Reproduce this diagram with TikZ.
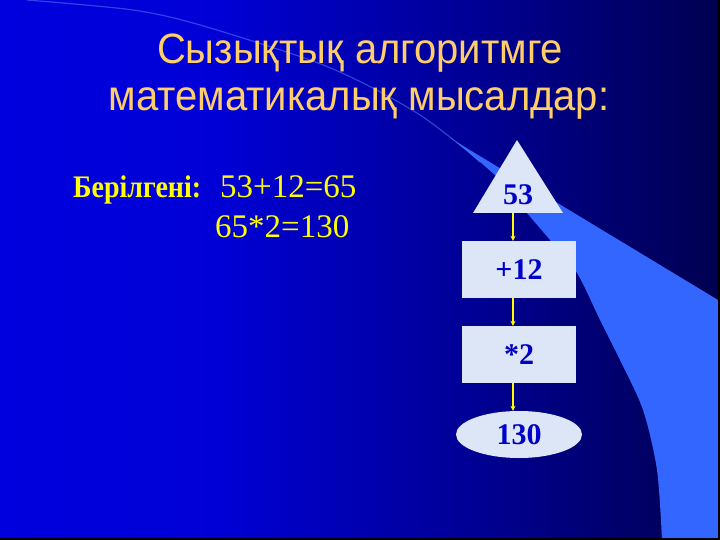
\documentclass[tikz,border=0pt]{standalone}
\usepackage{fontspec}
\setmainfont{Liberation Serif}
\newfontfamily\titlefont{Liberation Sans}
\usetikzlibrary{shapes.geometric,arrows.meta}
\definecolor{bandc}{RGB}{51,102,255}
\definecolor{titlec}{RGB}{255,206,104}
\definecolor{yel}{RGB}{255,255,0}
\definecolor{shapefill}{RGB}{220,230,246}
\definecolor{shapetext}{RGB}{0,0,200}
\definecolor{bgA}{RGB}{0,0,236}
\definecolor{bgB}{RGB}{0,0,214}
\definecolor{bgC}{RGB}{0,0,140}
\definecolor{bgD}{RGB}{0,0,80}
\definecolor{bgE}{RGB}{0,0,35}
\definecolor{bgF}{RGB}{0,0,0}
\pgfdeclarehorizontalshading{bgshade}{100bp}{color(0bp)=(bgA); color(40bp)=(bgB); color(60bp)=(bgC); color(75bp)=(bgD); color(88bp)=(bgE); color(100bp)=(bgF)}
\tikzset{
  flowbox/.style={draw=none, fill=shapefill, inner sep=0pt, text=shapetext,
    font=\fontsize{30}{32}\selectfont\bfseries, text height=20pt, text depth=0pt},
  flowarrow/.style={draw=yel, line width=1.3pt, -{Stealth[length=5pt,width=5pt]}},
  titletext/.style={text=titlec, font=\titlefont\fontsize{40}{48}\selectfont, inner sep=0pt, anchor=base},
  givtext/.style={text=yel, inner sep=0pt, anchor=base west}
}
\begin{document}
\begin{tikzpicture}[x=1pt,y=-1pt]
\useasboundingbox (0,0) rectangle (720,540);
% background
\shade[shading=bgshade] (0,0) rectangle (720,540);
% swoosh band
\fill[bandc] plot[smooth] coordinates {(450,138) (460,145) (500,180) (527,213) (550,240) (577,273) (600,320) (620,360) (643,410) (657,470) (662,540)}
  -- (718,540) -- (718,300) -- cycle;
\draw[bandc!80!white, opacity=0.5, line width=1.2pt] plot[smooth] coordinates {(27,0) (133,10) (200,25) (310,60) (367,85) (420,115) (460,145) (480,162)};
\fill[black] (718,0) rectangle (720,540);
\fill[black] (0,538) rectangle (720,540);
% title
\node[titletext] (t1) at (360,64) {\scalebox{1}[1.06]{Сызықтық алгоритмге}};
\node[titletext] (t2) at (359,111) {\scalebox{1}[1.06]{математикалық мысалдар:}};
% given
\node[givtext, font=\fontsize{28}{32}\selectfont\bfseries] (g1) at (73,198) {\scalebox{1}[1.12]{Берілгені:}};
\node[givtext, font=\fontsize{33}{36}\selectfont] (g2) at (220,198) {53+12=65};
\node[givtext, font=\fontsize{33}{36}\selectfont] (g3) at (215,237) {65*2=130};
% flowchart
\coordinate (ax) at (513,0);
\fill[shapefill] (517,140) -- (563,213) -- (473,213) -- cycle;
\coordinate (tb) at (513,213);
\node[flowbox, fill=none, anchor=base] (n53) at (518,205) {53};
\node[flowbox, minimum width=114pt, minimum height=57pt] (r1) at (519,269.5) {+12};
\node[flowbox, minimum width=114pt, minimum height=57pt] (r2) at (519,354.5) {*2};
\node[flowbox, ellipse, minimum width=126pt, minimum height=47pt] (e1) at (519,434.5) {130};
\draw[flowarrow] (tb) -- (r1.north -| ax);
\draw[flowarrow] (r1.south -| ax) -- (r2.north -| ax);
\draw[flowarrow] (r2.south -| ax) -- (e1.north -| ax);
\end{tikzpicture}
\end{document}
